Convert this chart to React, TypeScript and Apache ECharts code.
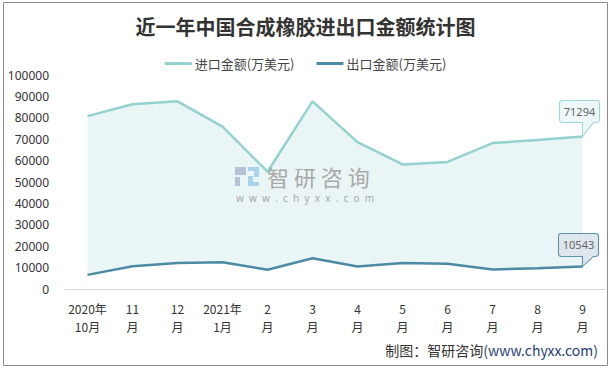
import React, { useEffect, useRef } from "react";
import * as echarts from "echarts";

const categories = ["2020年\n10月", "11\n月", "12\n月", "2021年\n1月", "2\n月", "3\n月", "4\n月", "5\n月", "6\n月", "7\n月", "8\n月", "9\n月"];
const importValues = [80800, 86300, 87700, 75900, 54800, 87700, 68600, 58200, 59400, 68200, 69600, 71294];
const exportValues = [6600, 10600, 12100, 12500, 9000, 14400, 10500, 12200, 11800, 9100, 9700, 10543];
const seriesNames = ["进口金额(万美元)", "出口金额(万美元)"];
const yTicks = { min: 0, max: 100000, interval: 10000 };

const calloutPath = (w: number, h: number, tailX: number, tail: number, tailW: number) =>
  `path://M3,0 L${w - 3},0 Q${w},0 ${w},3 L${w},${h - 3} Q${w},${h} ${w - 3},${h} L${tailX + tailW},${h} L${tailX},${h + tail} L${tailX},${h} L3,${h} Q0,${h} 0,${h - 3} L0,3 Q0,0 3,0 Z`;

export default function App() {
  const ref = useRef<HTMLDivElement>(null);
  useEffect(() => {
    if (!ref.current) return;
    const chart = echarts.init(ref.current, null, { renderer: "svg" });
    const last = categories.length - 1;
    const mk = (val: number, fill: string, border: string, h: number, tail: number, tailX: number) => {
      const w = 40;
      return {
        symbol: calloutPath(w, h, tailX, tail, 11),
        symbolSize: [w, h + tail],
        symbolKeepAspect: false,
        symbolOffset: [w / 2 - tailX, (h + tail) / 2 - (h + tail)],
        itemStyle: { color: fill, borderColor: border, borderWidth: 1 },
        label: {
          show: true,
          position: "inside",
          offset: [0, h / 2 - (h + tail) / 2],
          color: "#666",
          fontSize: 11,
          fontFamily: "Noto Sans",
          formatter: () => String(val),
        },
        data: [{ coord: [last, val], value: val }],
      };
    };
    chart.setOption({
      animation: false,
      backgroundColor: "#fff",
      title: {
        text: "近一年中国合成橡胶进出口金额统计图",
        left: "center",
        top: 11,
        textStyle: { fontSize: 20, fontWeight: "bold", color: "#333", fontFamily: "Noto Sans CJK SC" },
      },
      legend: {
        top: 52,
        left: "center",
        itemWidth: 27,
        itemHeight: 3,
        itemGap: 22,
        icon: "rect",
        textStyle: { fontSize: 13, color: "#444", fontFamily: "Noto Sans CJK SC", padding: [0, 0, 0, -2] },
        data: seriesNames,
      },
      grid: { left: 65, right: 6, top: 75, bottom: 81 },
      xAxis: {
        type: "category",
        data: categories,
        boundaryGap: true,
        z: 5,
        axisLine: { lineStyle: { color: "#d9d9d9", width: 1 } },
        axisTick: { show: false },
        axisLabel: {
          color: "#333",
          fontSize: 12,
          lineHeight: 18,
          margin: 10,
          interval: 0,
          fontFamily: "Noto Sans CJK SC",
        },
      },
      yAxis: {
        type: "value",
        min: yTicks.min,
        max: yTicks.max,
        interval: yTicks.interval,
        axisLine: { show: false },
        axisTick: { show: false },
        splitLine: { show: false },
        axisLabel: { color: "#333", fontSize: 12, margin: 16, fontFamily: "Noto Sans", formatter: (v: number) => String(v) },
      },
      graphic: [
        { type: "rect", shape: { x: 3.5, y: 2.5, width: 604, height: 363 }, style: { fill: "none", stroke: "#8c8c8c", lineWidth: 1 }, z: 100 },
        { type: "rect", shape: { x: 235, y: 167, width: 11, height: 8 }, style: { fill: "#b5c3d6" }, z: 50 },
        { type: "rect", shape: { x: 235, y: 177, width: 5, height: 9 }, style: { fill: "#b5c3d6" }, z: 50 },
        { type: "rect", shape: { x: 248, y: 167, width: 11, height: 4 }, style: { fill: "#a9d3ea" }, z: 50 },
        { type: "rect", shape: { x: 254, y: 171, width: 5, height: 6 }, style: { fill: "#a9d3ea" }, z: 50 },
        { type: "rect", shape: { x: 248, y: 176, width: 5, height: 10 }, style: { fill: "#a9d3ea" }, z: 50 },
        { type: "rect", shape: { x: 253, y: 182, width: 6, height: 4 }, style: { fill: "#a9d3ea" }, z: 50 },
        {
          type: "text",
          x: 267,
          y: 176,
          z: 50,
          style: { text: "智 研 咨 询", fill: "#a8a8a8", fontSize: 22, fontFamily: "Noto Sans CJK SC", textVerticalAlign: "middle", textAlign: "left" },
        },
        {
          type: "text",
          x: 236,
          y: 198,
          z: 50,
          style: { text: "w  w  w  .  c  h  y  x  x  .  c  o  m", fill: "#a8a8a8", fontSize: 10, fontFamily: "Noto Sans", textVerticalAlign: "middle", textAlign: "left" },
        },
        {
          type: "text",
          right: 13,
          top: 343,
          z: 50,
          style: {
            text: "{a|制图：智研咨询}{b|(www.chyxx.com)}",
            fontSize: 14,
            fontFamily: "Noto Sans CJK SC",
            rich: {
              a: { fill: "#333", fontSize: 14, fontFamily: "Noto Sans CJK SC" },
              b: { fill: "#1f3e78", fontSize: 14, fontFamily: "Noto Sans CJK SC" },
            },
          },
        },
      ],
      series: [
        {
          name: seriesNames[0],
          type: "line",
          data: importValues,
          showSymbol: false,
          symbol: "none",
          lineStyle: { color: "#93d2ce", width: 2.5 },
          itemStyle: { color: "#93d2ce" },
          areaStyle: { color: "#eaf6f6", opacity: 1 },
          markPoint: mk(importValues[last], "#eef8f8", "#9fd8d5", 22, 14, 23),
        },
        {
          name: seriesNames[1],
          type: "line",
          data: exportValues,
          showSymbol: false,
          symbol: "none",
          lineStyle: { color: "#4d8aa4", width: 2.5 },
          itemStyle: { color: "#4d8aa4" },
          areaStyle: { color: "#ffffff", opacity: 1 },
          markPoint: mk(exportValues[last], "#dfe7ee", "#5e93ab", 23, 10, 24),
        },
      ],
    });
    return () => chart.dispose();
  }, []);
  return <div ref={ref} style={{ position: "absolute", left: 0, top: 0, width: 611, height: 370 }} />;
}
